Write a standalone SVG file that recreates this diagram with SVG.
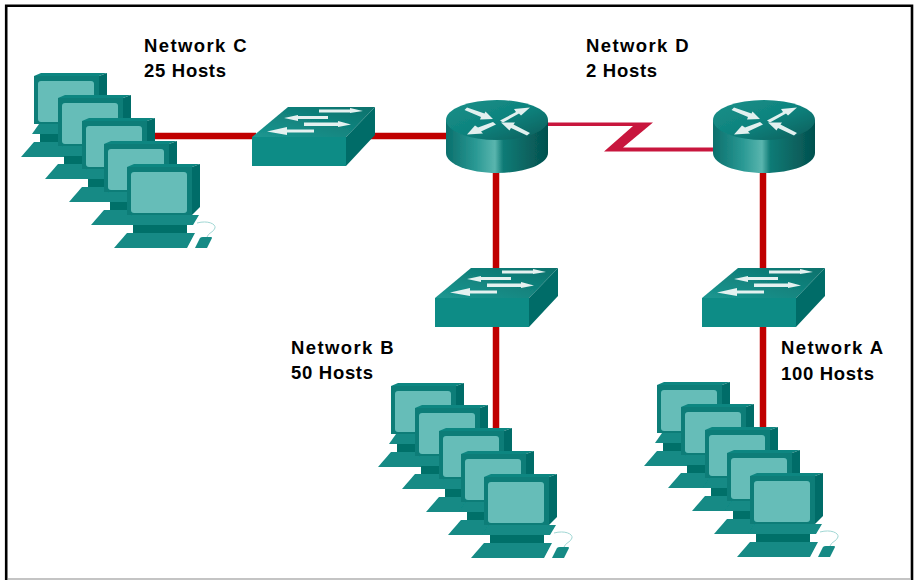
<svg xmlns="http://www.w3.org/2000/svg" width="914" height="580" viewBox="0 0 914 580">
<style>
text{font-family:"Liberation Sans",Arial,sans-serif;font-weight:700;font-size:18.5px;fill:#000;letter-spacing:1.4px}
text.h{letter-spacing:.7px}
.link{stroke:#c00000;stroke-width:6.500;fill:none}
.soft{filter:url(#soft)}
</style>
<defs>
<filter id="soft" x="-5%" y="-5%" width="110%" height="110%"><feGaussianBlur stdDeviation="0.6"/></filter>
<linearGradient id="rb" x1="0" x2="1" y1="0" y2="0">
<stop offset="0" stop-color="#0a6f6c"/><stop offset=".3" stop-color="#2b9a95"/><stop offset=".48" stop-color="#5ab5ae"/><stop offset=".56" stop-color="#0e7b76"/><stop offset="1" stop-color="#04504e"/>
</linearGradient>
<linearGradient id="rt" x1="0" x2="1" y1="0" y2="1">
<stop offset="0" stop-color="#189089"/><stop offset=".5" stop-color="#0f837e"/><stop offset="1" stop-color="#055c59"/>
</linearGradient>
<linearGradient id="st" x1="0" x2="1" y1="1" y2="0">
<stop offset="0" stop-color="#1c9791"/><stop offset="1" stop-color="#08716c"/>
</linearGradient>
<g id="pc">
<path d="M114 248L127 233H195L187 248Z" fill="#128a85"/>
<rect x="133" y="225" width="54" height="8" fill="#067069"/>
<path d="M125 225L132 215H199L193 225Z" fill="#148a85"/>
<path d="M127 167L134 164H200L192 167Z" fill="#0e8681"/>
<path d="M192 167L200 164V207L192 215Z" fill="#056c67"/>
<rect x="127" y="167" width="65" height="48" fill="#097d78"/>
<rect x="131" y="172" width="56" height="41" rx="3" fill="#66bdb8"/>
</g>
<g id="mouse">
<path d="M195 248L200 238Q201 237 203 237H211Q212 237 212 238L207 248Z" fill="#128a85"/>
<path d="M197 223C208 220 216 224 215 228C214 232 208 233 207 237" fill="none" stroke="#9fd6d3" stroke-width="1"/>
</g>
<g id="pcs">
<use href="#pc" x="-93" y="-91"/><use href="#pc" x="-69" y="-69"/><use href="#pc" x="-45" y="-46"/><use href="#pc" x="-23" y="-23"/><use href="#pc"/><use href="#mouse"/>
</g>
<g id="arrowsSw" fill="#e4f1f0">
<path d="M319 109.500H350V108L363 111L350 113V112.500H319Z"/>
<path d="M284 118L298 115V116H328V119H298V121Z"/>
<path d="M304 122.500H338V121L351 124.500L338 127V126H304Z"/>
<path d="M267 131.500L287 127V129.500H314V132.500H287V135Z"/>
</g>
<g id="switch">
<path d="M252 137L288 107H375L346 137Z" fill="url(#st)"/>
<path d="M346 137L375 107V135L346 166Z" fill="#066c68"/>
<rect x="252" y="137" width="94" height="29" fill="#108c86"/>
<use href="#arrowsSw"/>
</g>
<g id="router">
<path d="M446 120V153C446 164 469 173 497 173S548 164 548 153V120Z" fill="url(#rb)"/>
<ellipse cx="497" cy="120" rx="51" ry="20" fill="url(#rt)"/>
<g fill="#e2f0ef">
<path d="M464.500 110L467 107.500L484.500 113.500L485.500 111.500L493 119L480 119.500L481 117Z"/>
<path d="M500 120.500L516 112L514 109L530 107.500L521 115.500L519 113.500L503 122.500Z"/>
<path d="M496 124.500L481 131.500L483 133.500L467 134.500L475 125.500L478 127.500L493 122Z"/>
<path d="M530 133L527 135.500L511 128L509.500 130.500L501 122.500L515 122.500L513.500 124.500Z"/>
</g>
</g>
</defs>
<rect width="914" height="580" fill="#fff"/>
<path d="M6.200 580V5.800H912V580" fill="none" stroke="#000" stroke-width="2.600"/>
<path d="M8 579H910" stroke="#c4c4c4" stroke-width="2"/>
<g id="connectors">
<path class="link" d="M154 136H256"/>
<path class="link" d="M370 136H450"/>
<path class="link" d="M496 168V272"/>
<path class="link" d="M496 326V432"/>
<path class="link" d="M763 168V272"/>
<path class="link" d="M763 326V432"/>
<path d="M547 122.500H653L623 147.500H714V151.500H604L633 126H547Z" fill="#c8173c" class="soft"/>
</g>
<g id="network-c-hosts" class="soft"><use href="#pcs"/></g>
<g id="network-b-hosts" class="soft"><use href="#pcs" x="357" y="310"/></g>
<g id="network-a-hosts" class="soft"><use href="#pcs" x="623" y="309"/></g>
<g id="switch-c" class="soft"><use href="#switch"/></g>
<g id="switch-b" class="soft"><use href="#switch" x="183" y="161"/></g>
<g id="switch-a" class="soft"><use href="#switch" x="450" y="161"/></g>
<g id="router-1" class="soft"><use href="#router"/></g>
<g id="router-2" class="soft"><use href="#router" x="267"/></g>
<g id="label-c"><text x="144" y="52">Network C</text><text class="h" x="144" y="77">25 Hosts</text></g>
<g id="label-d"><text x="586" y="52">Network D</text><text class="h" x="586" y="77">2 Hosts</text></g>
<g id="label-b"><text x="291" y="354">Network B</text><text class="h" x="291" y="379">50 Hosts</text></g>
<g id="label-a"><text x="781" y="354">Network A</text><text class="h" x="781" y="380">100 Hosts</text></g>
</svg>
